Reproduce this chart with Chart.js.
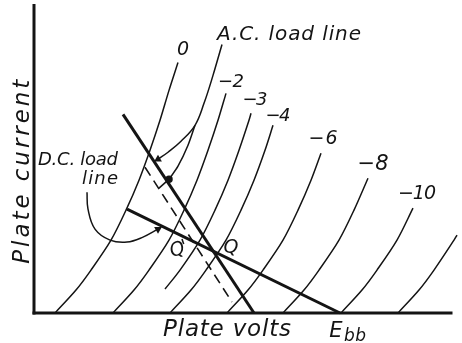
<!DOCTYPE html>
<html><head><meta charset="utf-8">
<script src="https://cdn.jsdelivr.net/npm/chart.js@4/dist/chart.umd.min.js"></script>
<style>html,body{margin:0;padding:0;background:#fff}canvas{display:block}</style>
</head><body>
<canvas id="c" width="462" height="343"></canvas>
<script>
// ---- data (arbitrary units: x = plate volts, y = plate current) ----
const gridBias = ['0', '−2', '−3', '−4', '−6', '−8', '−10', ''];
const curve0   = [[144,251],[135,223],[126,193],[116,163],[105,133],[92,103],[77,73],[57,43],[42,23],[21,0]];
const curveM2  = [[192,220],[184,193],[174,163],[163,133],[150,103],[135,73],[115,43],[100,23],[79,0]];
const curveM3  = [[217,200],[215,193],[205,163],[194,133],[181,103],[166,73],[146,43],[131,24]];
const curveM4  = [[239,188],[231,163],[220,133],[207,103],[192,73],[172,43],[157,23],[136,0]];
const curveM6  = [[287,160],[277,133],[264,103],[249,73],[229,43],[214,23],[193,0]];
const curveM8  = [[334,135],[320,103],[305,73],[285,43],[270,23],[249,0]];
const curveM10 = [[379,105],[363,73],[343,43],[328,23],[307,0]];
const curveM12 = [[423,78],[420,73],[400,43],[385,23],[364,0]];
const acLoadLine = [[89,199],[220,0]];
const dcLoadLine = [[93,104],[306,0]];
const acLoadLineQ2 = [[111,146],[198,11]];
const acConnector = [[125,125],[134,133]];
const acLeader = [[188,269],[179,238],[170,210],[161,188],[147,172],[134,161],[124,154]];
const acLeaderB = [[161,188],[154,168],[144,147],[135,134]];
const dcLeader = [[53,121],[54,104],[61,84],[76,73],[93,71],[109,76],[124,84]];
const yAxisLine = [[0,0],[0,308]];
const xAxisLine = [[0,0],[417,0]];
const axisTitles = ['Plate volts', 'Plate current'];
const noteTexts = ['A.C. load line', 'D.C. load', 'line', "Q'", 'Q', 'E', 'bb'];

// ---- layout of text labels (data coords), kept apart from data ----
const INK = '#141414';
const FONT = '"DejaVu Sans", sans-serif';
const textSpecs = [
  {t: gridBias[0], x:149, y:263, size:19, w:11},
  {t: gridBias[1], x:197, y:231, size:18, w:26},
  {t: gridBias[2], x:221, y:213, size:18, w:25},
  {t: gridBias[3], x:244, y:197, size:18, w:25},
  {t: gridBias[4], x:289, y:174, size:19, w:29},
  {t: gridBias[5], x:339, y:149, size:21, w:31},
  {t: gridBias[6], x:383, y:119, size:19, w:38},
  {t: noteTexts[0], x:255, y:279, size:20, w:144},
  {t: noteTexts[1], x:44, y:152.5, size:18, w:80},
  {t: noteTexts[2], x:66, y:133.5, size:18, w:36},
  {t: noteTexts[3], x:145, y:63, size:19, w:18, rot:-0.35},
  {t: noteTexts[4], x:197, y:65, size:19, w:15},
  {t: noteTexts[5], x:302, y:-19, size:21, w:16},
  {t: noteTexts[6], x:321, y:-24, size:17, w:22},
  {t: axisTitles[0], x:193, y:-17, size:23, w:128},
  {t: axisTitles[1], x:-12, y:143, size:23, w:184, rot:-Math.PI/2}
];

function pts(a){ return a.map(p => ({x:p[0], y:p[1]})); }
function line(a, o){
  return Object.assign({data: pts(a), showLine:true, borderColor:INK, backgroundColor:INK,
    borderWidth:1.5, pointRadius:0, tension:0.3, clip:false, fill:false}, o||{});
}
function arrowOpts(a, rotDeg){
  const n = a.length;
  return {pointRadius: a.map((_,i)=> i===n-1 ? 4.5 : 0), pointStyle:'triangle',
          pointRotation: a.map((_,i)=> i===n-1 ? rotDeg : 0), pointBorderWidth:0,
          pointBackgroundColor: INK, tension:0.4};
}

const textPlugin = {
  id:'texts',
  afterDatasetsDraw(chart){
    const ctx = chart.ctx, xs = chart.scales.x, ys = chart.scales.y;
    ctx.save();
    ctx.fillStyle = INK;
    ctx.textAlign = 'center';
    ctx.textBaseline = 'middle';
    for (const s of textSpecs){
      if (!s.t) continue;
      ctx.font = 'italic ' + s.size + 'px ' + FONT;
      ctx.letterSpacing = '0px';
      const m = ctx.measureText(s.t).width;
      let sp = s.t.length > 1 ? (s.w - m) / (s.t.length - 1) : 0;
      sp = Math.max(-3, Math.min(8, sp));
      ctx.letterSpacing = sp + 'px';
      const px = xs.getPixelForValue(s.x), py = ys.getPixelForValue(s.y);
      ctx.save();
      ctx.translate(px + sp/2, py);
      if (s.rot) ctx.rotate(s.rot);
      ctx.fillText(s.t, 0, 0);
      ctx.restore();
    }
    ctx.restore();
  }
};

const datasets = [
  line(yAxisLine, {borderWidth:3, tension:0, borderCapStyle:'square'}),
  line(xAxisLine, {borderWidth:3, tension:0, borderCapStyle:'square'}),
  line(curve0), line(curveM2), line(curveM3), line(curveM4),
  line(curveM6), line(curveM8), line(curveM10), line(curveM12),
  line(acLoadLine, {borderWidth:3, tension:0}),
  line(dcLoadLine, {borderWidth:3, tension:0}),
  line(acLoadLineQ2, {borderWidth:1.6, tension:0, borderDash:[10,6]}),
  line(acConnector, {borderWidth:1.6, tension:0}),
  line(acLeader, arrowOpts(acLeader, 240)),
  line(acLeaderB, {tension:0.3, pointRadius: acLeaderB.map((_,i)=> i===acLeaderB.length-1 ? 3 : 0)}),
  line(dcLeader, arrowOpts(dcLeader, 60))
];

new Chart(document.getElementById('c'), {
  type:'scatter',
  data:{datasets},
  options:{
    responsive:false, animation:false, devicePixelRatio:1,
    layout:{padding:{left:34, right:11, top:5, bottom:30}},
    scales:{
      x:{type:'linear', min:0, max:417, display:false},
      y:{type:'linear', min:0, max:308, display:false}
    },
    plugins:{legend:{display:false}, tooltip:{enabled:false}},
    events:[]
  },
  plugins:[textPlugin]
});
</script>
</body></html>
